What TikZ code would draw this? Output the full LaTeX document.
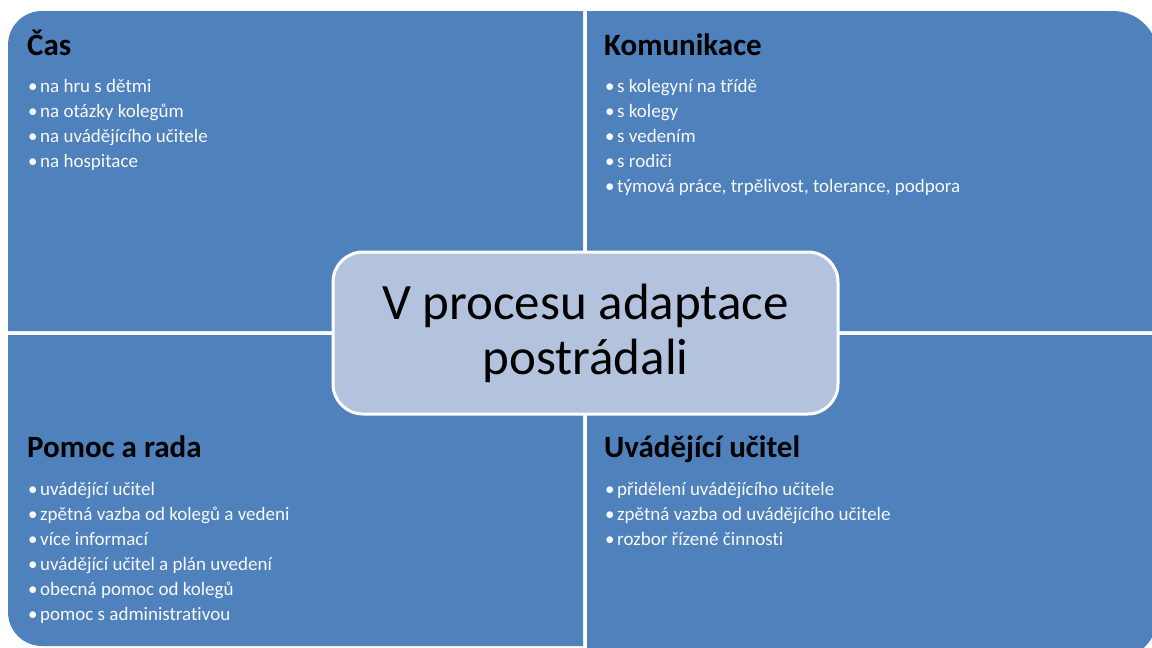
\documentclass[tikz,border=0pt]{standalone}
\usepackage{fontspec}
\setmainfont{Carlito}[Ligatures=NoCommon]
\usepackage{tikz}
\usetikzlibrary{positioning}
\definecolor{quadblue}{HTML}{4F81BD}
\definecolor{centerfill}{HTML}{B3C3DD}
\tikzset{
  quadrant/.style={fill=quadblue},
  centerbox/.style={draw=white,line width=3pt,fill=centerfill,rounded corners=30pt,
    minimum width=505pt,minimum height=162pt,align=center,
    font=\fontsize{51}{55}\selectfont},
  headlabel/.style={anchor=base west,inner sep=0pt,font=\fontsize{31}{34}\selectfont\bfseries},
  itemlabel/.style={anchor=base west,inner sep=0pt,text=white!96!quadblue,font=\fontsize{19}{22}\selectfont}
}
\newcommand{\bulletitem}[1]{\makebox[12pt][l]{•}#1}

\begin{document}
\begin{tikzpicture}[x=1pt,y=-1pt]
  \clip (0,0) rectangle (1152,648);
  % four quadrants, each with one rounded outer corner
  \fill[quadrant] (583,331) -- (8,331) -- (8,45) arc[start angle=180,end angle=270,radius=34] -- (583,11) -- cycle;
  \fill[quadrant] (587,11) -- (1113,11) arc[start angle=270,end angle=360,radius=45] -- (1158,331) -- (587,331) -- cycle;
  \fill[quadrant] (8,335) -- (583,335) -- (583,646) -- (42,646) arc[start angle=90,end angle=180,radius=34] -- cycle;
  \fill[quadrant] (587,335) -- (1158,335) -- (1158,615) arc[start angle=0,end angle=90,radius=45] -- (587,660) -- cycle;

  \node[headlabel] (cas) at (27,55) {Čas};
  \foreach \t [count=\i] in {na hru s dětmi,na otázky kolegům,na uvádějícího učitele,na hospitace}
    \node[itemlabel] (cas-\i) at (28,{92+25*(\i-1)}) {\bulletitem{\t}};

  \node[headlabel] (komunikace) at (604,55) {Komunikace};
  \foreach \t [count=\i] in {s kolegyní na třídě,s kolegy,s vedením,s rodiči,{týmová práce, trpělivost, tolerance, podpora}}
    \node[itemlabel] (kom-\i) at (605,{92+25*(\i-1)}) {\bulletitem{\t}};

  \node[headlabel] (pomoc) at (27,457) {Pomoc a rada};
  \foreach \t [count=\i] in {uvádějící učitel,zpětná vazba od kolegů a vedeni,více informací,uvádějící učitel a plán uvedení,obecná pomoc od kolegů,pomoc s administrativou}
    \node[itemlabel] (pomoc-\i) at (28,{495+25*(\i-1)}) {\bulletitem{\t}};

  \node[headlabel] (ucitel) at (604,457) {Uvádějící učitel};
  \foreach \t [count=\i] in {přidělení uvádějícího učitele,zpětná vazba od uvádějícího učitele,rozbor řízené činnosti}
    \node[itemlabel] (ucitel-\i) at (605,{495+25*(\i-1)}) {\bulletitem{\t}};

  \node[centerbox] (stred) at (585.5,333) {V procesu adaptace\\postrádali};
\end{tikzpicture}
\end{document}
